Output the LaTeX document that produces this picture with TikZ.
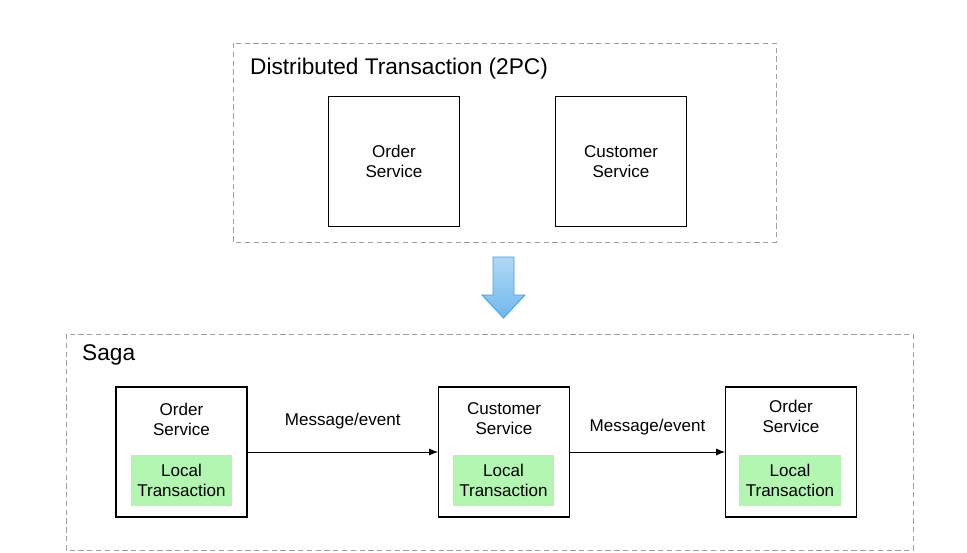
\documentclass[tikz,border=0pt]{standalone}
\usepackage{fontspec}
\setmainfont{Liberation Sans}
\usetikzlibrary{arrows.meta}
\definecolor{arrowblue}{RGB}{112,184,238}
\definecolor{arrowedge}{RGB}{80,158,218}
\definecolor{localgreen}{RGB}{178,246,178}
\tikzset{
  svcbox/.style={draw,line width=0.6pt,minimum width=2.62cm,minimum height=2.6cm},
  localbox/.style={fill=localgreen,minimum width=2.04cm,minimum height=1.02cm,align=center,font=\fontsize{9.7}{11.4}\selectfont},
  svctext/.style={align=center,font=\fontsize{9.7}{11.4}\selectfont},
  groupbox/.style={draw=gray!75,line width=0.5pt,dash pattern=on 3pt off 2pt}
}
\begin{document}
\begin{tikzpicture}[x=0.02cm,y=-0.02cm]
\useasboundingbox (0,0) rectangle (967,553);
% 2PC part
\draw[groupbox](233,43) rectangle (776,242);
\node[anchor=west,font=\fontsize{12.9}{15}\selectfont] (tpc) at (244,69) {Distributed Transaction (2PC)};
\node[svcbox,svctext] (order) at (394,161.5) {Order\\Service};
\node[svcbox,svctext] (customer) at (621,161.5) {Customer\\Service};
% blue arrow
\shadedraw[top color=arrowblue!55,bottom color=arrowblue,draw=arrowedge,line width=0.5pt](493,257)--(514,257)--(514,295)--(525,295)
  --(503.5,318)--(482,295)--(493,295)--cycle;
% saga part
\draw[groupbox](66,334) rectangle (913,550);
\node[anchor=west,font=\fontsize{12.9}{15}\selectfont] (saga) at (76,355) {Saga};
\node[svcbox] (s1) at (181.5,452) {};
\node[svcbox] (s2) at (504,452) {};
\node[svcbox] (s3) at (791,452) {};
\node[svctext] at (181.5,419) {Order\\Service};
\node[svctext] at (504,419) {Customer\\Service};
\node[svctext] at (791,416) {Order\\Service};
\node[localbox] (l1) at (181.5,480.5) {Local\\Transaction};
\node[localbox] (l2) at (503.5,480.5) {Local\\Transaction};
\node[localbox] (l3) at (790,480.5) {Local\\Transaction};
\draw[-{Latex[length=5pt,width=4pt]},line width=0.5pt](s1)--(s2)node[midway,above=9.3pt,svctext]{Message/event};
\draw[-{Latex[length=5pt,width=4pt]},line width=0.5pt](s2)--(s3)node[midway,above=6pt,svctext]{Message/event};
\end{tikzpicture}
\end{document}
